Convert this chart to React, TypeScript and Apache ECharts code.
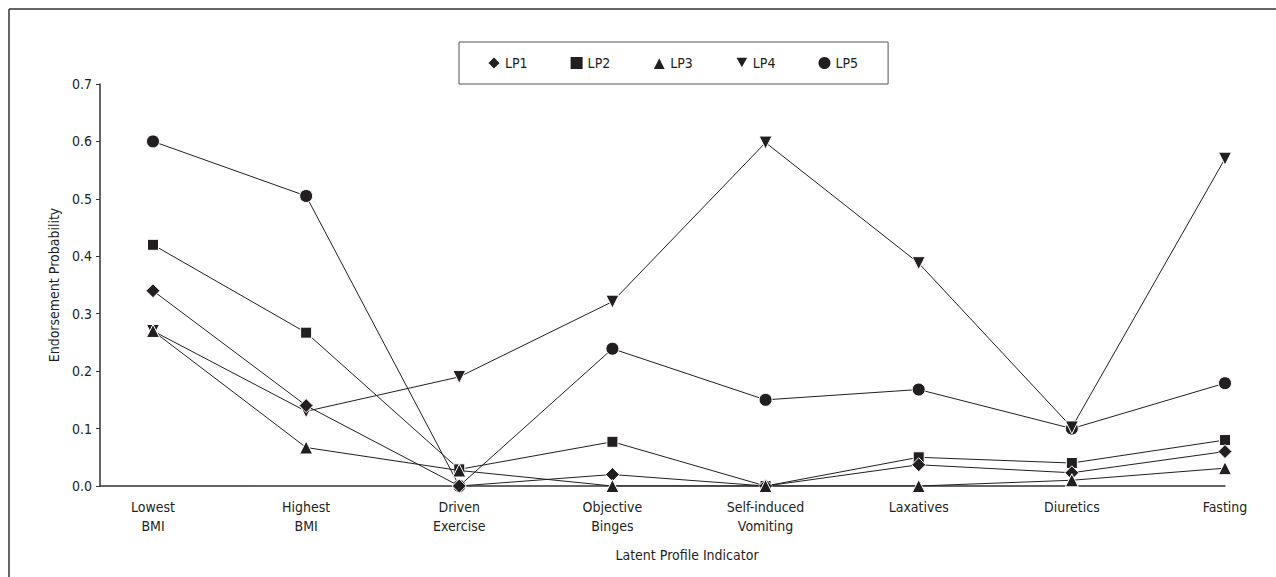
import React, { useEffect, useRef } from "react";
import * as echarts from "echarts";

const categories = [
  "Lowest\nBMI",
  "Highest\nBMI",
  "Driven\nExercise",
  "Objective\nBinges",
  "Self-induced\nVomiting",
  "Laxatives",
  "Diuretics",
  "Fasting",
];
const lp1 = [0.34, 0.14, 0.0, 0.02, 0.0, 0.037, 0.023, 0.06];
const lp2 = [0.42, 0.267, 0.029, 0.077, 0.0, 0.05, 0.04, 0.08];
const lp3 = [0.27, 0.067, 0.027, 0.0, 0.0, 0.0, 0.01, 0.031];
const lp4 = [0.27, 0.13, 0.19, 0.321, 0.598, 0.388, 0.102, 0.57];
const lp5 = [0.6, 0.505, 0.0, 0.239, 0.15, 0.168, 0.1, 0.179];
const yTicks = [0, 0.1, 0.2, 0.3, 0.4, 0.5, 0.6, 0.7];

const FONT = "'Liberation Sans Narrow', 'DejaVu Sans Condensed', 'Liberation Sans', sans-serif";
const INK = "#231f20";
const DOWN_TRI = "path://M0,0 L10,0 L5,9 Z";

export default function App() {
  const ref = useRef<HTMLDivElement>(null);
  useEffect(() => {
    document.body.style.margin = "0";
    if (!ref.current) return;
    const chart = echarts.init(ref.current, undefined, { renderer: "svg" });
    const mk = (name: string, vals: number[], symbol: string, size: number, z: number) => ({
      name,
      type: "line",
      data: vals.map((v, i) => [i, v]),
      symbol,
      symbolSize: size,
      z,
      lineStyle: { color: INK, width: 1 },
      itemStyle: { color: INK, borderColor: "#ffffff", borderWidth: 1 },
      emphasis: { disabled: true },
    });
    chart.setOption({
      animation: false,
      textStyle: { fontFamily: FONT },
      grid: { left: 100, right: 51, top: 84, bottom: 91, containLabel: false },
      legend: {
        left: 459,
        top: 42,
        orient: "horizontal",
        padding: [13, 30, 13, 27],
        itemGap: 41,
        itemWidth: 14,
        itemHeight: 14,
        borderColor: "#555",
        borderWidth: 1,
        textStyle: { fontFamily: FONT, fontSize: 14, color: INK, padding: [0, 0, 0, -1] },
        data: [
          { name: "LP1", icon: "diamond" },
          { name: "LP2", icon: "rect" },
          { name: "LP3", icon: "triangle" },
          { name: "LP4", icon: DOWN_TRI },
          { name: "LP5", icon: "circle" },
        ],
      },
      xAxis: {
        type: "value",
        min: -0.346,
        max: 7,
        splitLine: { show: false },
        axisTick: { show: false },
        axisLine: { show: true, onZero: false, lineStyle: { color: "#333", width: 1.5 } },
        axisLabel: {
          customValues: categories.map((_, i) => i),
          formatter: (v: number) => categories[Math.round(v)] ?? "",
          fontFamily: FONT,
          fontSize: 14,
          lineHeight: 19,
          color: INK,
          margin: 11,
        },
      },
      yAxis: {
        type: "value",
        min: 0,
        max: 0.7,
        interval: 0.1,
        name: "Endorsement Probability",
        nameLocation: "middle",
        nameGap: 37,
        nameTextStyle: { fontFamily: FONT, fontSize: 14, color: INK },
        splitLine: { show: false },
        axisLine: { show: true, onZero: false, lineStyle: { color: "#333", width: 1.5 } },
        axisTick: { show: true, length: 4, lineStyle: { color: "#333", width: 1 } },
        axisLabel: {
          customValues: yTicks,
          formatter: (v: number) => v.toFixed(1),
          fontFamily: FONT,
          fontSize: 14,
          color: INK,
          margin: 8,
        },
      },
      graphic: [
        {
          type: "line",
          shape: { x1: 9, y1: 9, x2: 1276, y2: 9 },
          style: { stroke: "#333", lineWidth: 1.5 },
        },
        {
          type: "line",
          shape: { x1: 9, y1: 9, x2: 9, y2: 577 },
          style: { stroke: "#333", lineWidth: 1.5 },
        },
        {
          type: "text",
          x: 687,
          y: 555,
          style: {
            text: "Latent Profile Indicator",
            fontFamily: FONT,
            fontSize: 14,
            fill: INK,
            align: "center",
            verticalAlign: "middle",
          },
        },
      ],
      series: [
        mk("LP1", lp1, "diamond", 14, 5),
        mk("LP2", lp2, "rect", 11, 4),
        mk("LP3", lp3, "triangle", 13, 6),
        mk("LP4", lp4, DOWN_TRI, 13, 3),
        mk("LP5", lp5, "circle", 13, 2),
      ],
    });
    return () => chart.dispose();
  }, []);
  return <div ref={ref} style={{ width: 1276, height: 577 }} />;
}
